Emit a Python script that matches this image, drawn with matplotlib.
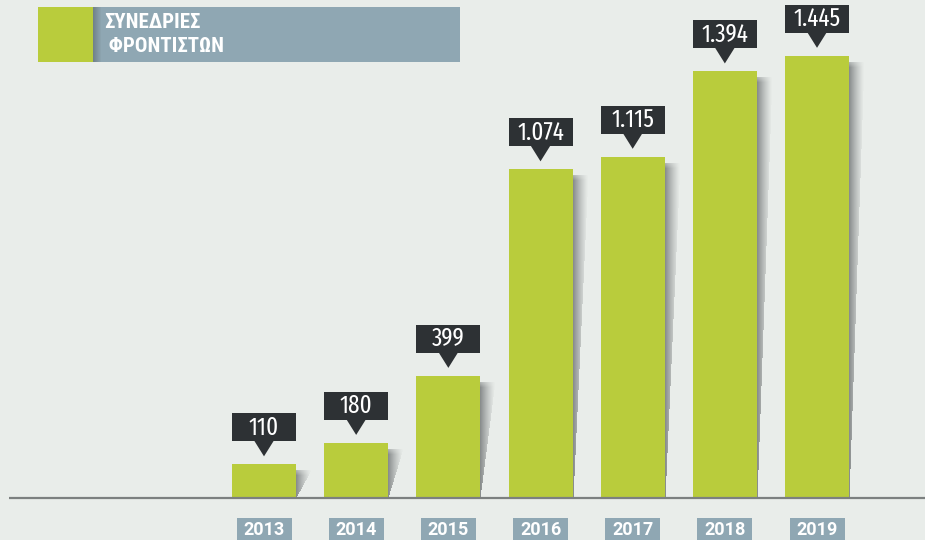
import matplotlib
matplotlib.use("Agg")
import matplotlib.pyplot as plt
from matplotlib.patches import Rectangle, Polygon
import matplotlib.transforms as mtransforms

years = ["2013", "2014", "2015", "2016", "2017", "2018", "2019"]
values = [110, 180, 399, 1074, 1115, 1394, 1445]
value_labels = ["110", "180", "399", "1.074", "1.115", "1.394", "1.445"]
title_lines = ["ΣΥΝΕΔΡΙΕΣ", " ΦΡΟΝΤΙΣΤΩΝ"]

BG = "#e9edea"
GREEN = "#b9cc3c"
DARK = "#2d3134"
SLATE = "#8fa7b3"
AXIS = "#7c8080"

W, H = 925, 540
fig = plt.figure(figsize=(W / 100, H / 100), dpi=100, facecolor=BG)
ax = fig.add_axes([0, 0, 1, 1])
ax.set_facecolor(BG)
ax.axis("off")

px_x = 92.17          # pixels per category step
px_y = 0.306          # pixels per value unit
base_px = 42          # baseline height from bottom
x0 = 264 / px_x
ax.set_xlim(-x0, -x0 + W / px_x)
ax.set_ylim(-base_px / px_y, (H - base_px) / px_y)

def dx(p):
    return p / px_x

def dy(p):
    return p / px_y

xs = list(range(len(years)))
bw = dx(64)

# wedge-shaped gradient shadows to the right of bars
for x, v in zip(xs, values):
    n = 15
    top = v - dy(6)
    for i in range(n):
        a = 0.55 * (1 - i / n) ** 1.3
        left = x + bw / 2 + dx(i)
        ystart = top * (i / n)
        ax.add_patch(Rectangle((left, ystart), dx(1.0), top - ystart,
                               color="#3a3e41", alpha=a, lw=0, zorder=1))
    # soft top fade
    for j in range(6):
        ax.add_patch(Rectangle((x + bw / 2, top - dy(j)), dx(n), dy(1),
                               color=BG, alpha=0.5 * (1 - j / 6), lw=0, zorder=2))

bars = ax.bar(xs, values, width=bw, color=GREEN, zorder=3)

# baseline
ax.plot([-x0 + dx(9), -x0 + W / px_x], [0, 0], color=AXIS, lw=1.6, zorder=4,
        solid_capstyle="butt")

font_val = ["Fira Sans Extra Condensed", "Roboto Condensed", "DejaVu Sans"]
font_title = ["Roboto Condensed", "DejaVu Sans"]
font_year = ["Roboto", "DejaVu Sans"]

# callouts
for x, v, lab in zip(xs, values, value_labels):
    tip = v + dy(8)
    bb = v + dy(23)
    bh = dy(28)
    bwid = dx(64)
    ax.add_patch(Rectangle((x - bwid / 2, bb), bwid, bh, color=DARK, lw=0, zorder=5))
    ax.add_patch(Polygon([(x - dx(10), bb + dy(1)), (x + dx(10), bb + dy(1)), (x, tip)],
                         closed=True, color=DARK, lw=0, zorder=5))
    ax.text(x, bb + bh / 2, lab, color="white", ha="center", va="center",
            fontsize=18, family=font_val, zorder=6)

# year labels
trans = mtransforms.blended_transform_factory(ax.transData, fig.transFigure)
for x, y in zip(xs, years):
    ax.add_patch(Rectangle((x - dx(27.5), 0), dx(55), 22 / H, transform=trans,
                           color=SLATE, lw=0, zorder=5, clip_on=False))
    ax.text(x, 10 / H, y, transform=trans, color="white", ha="center",
            va="center", fontsize=13, fontweight="bold", family=font_year, zorder=6)

# title block
fig.patches.append(Rectangle((93 / W, 1 - 62 / H), (460 - 93) / W, 55 / H,
                             transform=fig.transFigure, color=SLATE, lw=0, zorder=1))
for i in range(8):
    fig.patches.append(Rectangle(((93 + i) / W, 1 - 62 / H), 1 / W, 55 / H,
                                 transform=fig.transFigure, color="#3a3d3f",
                                 alpha=0.35 * (1 - i / 8), lw=0, zorder=2))
fig.patches.append(Rectangle((38 / W, 1 - 62 / H), 55 / W, 55 / H,
                             transform=fig.transFigure, color=GREEN, lw=0, zorder=3))
fig.text(104 / W, 1 - 22 / H, title_lines[0], color="white", fontsize=15,
         fontweight="bold", va="center", ha="left", family=font_title)
fig.text(104 / W, 1 - 47 / H, title_lines[1], color="white", fontsize=15,
         fontweight="bold", va="center", ha="left", family=font_title)

fig.savefig("out.png", dpi=100, facecolor=BG)
